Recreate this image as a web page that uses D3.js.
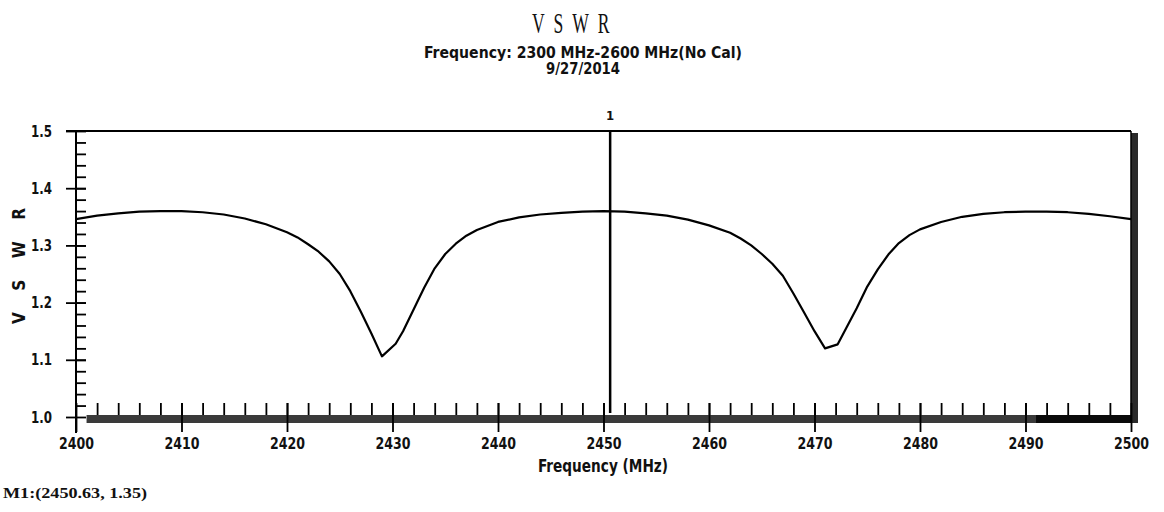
<!DOCTYPE html>
<html>
<head>
<meta charset="utf-8">
<script src="https://cdn.jsdelivr.net/npm/d3@7"></script>
<style>
  body { margin: 0; background: #fff; }
  text { font-family: "Liberation Sans Narrow", "DejaVu Sans Condensed", sans-serif; font-weight: bold; fill: #111; }
</style>
</head>
<body>
<div id="chart"></div>
<script>
// measured trace (MHz, VSWR)
var freq = [2400, 2402, 2404, 2406, 2408, 2410, 2412, 2414, 2416, 2418, 2420, 2421, 2422, 2423, 2424,
            2425, 2426, 2427, 2428, 2429, 2430.3, 2431, 2432, 2433, 2434, 2435, 2436, 2437, 2438,
            2440, 2442, 2444, 2446, 2448, 2450, 2452, 2454, 2456, 2458, 2460, 2462, 2463, 2464,
            2465, 2466, 2467, 2468, 2469, 2470, 2471, 2472.2, 2473, 2474, 2475, 2476, 2477, 2478,
            2479, 2480, 2482, 2484, 2486, 2488, 2490, 2492, 2494, 2496, 2498, 2500];
var vswr = [1.346, 1.352, 1.356, 1.359, 1.360, 1.360, 1.358, 1.354, 1.347, 1.337, 1.323, 1.314, 1.302, 1.289, 1.272,
            1.250, 1.220, 1.184, 1.146, 1.106, 1.128, 1.150, 1.188, 1.226, 1.260, 1.285, 1.303, 1.317, 1.327,
            1.341, 1.349, 1.354, 1.357, 1.359, 1.360, 1.359, 1.356, 1.352, 1.345, 1.335, 1.322, 1.312, 1.300,
            1.285, 1.268, 1.247, 1.216, 1.183, 1.150, 1.120, 1.127, 1.155, 1.190, 1.228, 1.258, 1.284, 1.304,
            1.318, 1.328, 1.341, 1.350, 1.355, 1.358, 1.359, 1.359, 1.358, 1.355, 1.351, 1.346];

var xTicks = [2400, 2410, 2420, 2430, 2440, 2450, 2460, 2470, 2480, 2490, 2500];
var xMinor = d3.range(2402, 2500, 2);
var yTicks = [1.0, 1.1, 1.2, 1.3, 1.4, 1.5];
var yMinor = d3.range(1.02, 1.5, 0.02);

var markerFreq = 2450.63;
var markerName = "1";
var markerText = "M1:(2450.63, 1.35)";

var title = "V S W R";
var subtitle = "Frequency: 2300 MHz-2600 MHz(No Cal)";
var dateText = "9/27/2014";
var xTitle = "Frequency (MHz)";
var yTitle = "V S W R";

var width = 1164, height = 512;

var svg = d3.select("#chart")
  .append("svg")
    .attr("width", width)
    .attr("height", height);

var x = d3.scaleLinear().domain([2400, 2500]).range([76, 1131]);
var y = d3.scaleLinear().domain([1.0, 1.5]).range([417, 131]);
var bandTop = 415;

// titles
svg.append("text")
  .attr("x", 572).attr("y", 33)
  .attr("text-anchor", "middle")
  .style("font-family", "'Liberation Serif', serif")
  .style("font-weight", "normal")
  .style("font-size", "29px")
  .style("letter-spacing", "4px")
  .attr("textLength", 80).attr("lengthAdjust", "spacingAndGlyphs")
  .text(title);
svg.append("text")
  .attr("x", 583).attr("y", 58)
  .attr("text-anchor", "middle")
  .style("font-size", "15px")
  .attr("textLength", 318).attr("lengthAdjust", "spacingAndGlyphs")
  .text(subtitle);
svg.append("text")
  .attr("x", 583).attr("y", 74)
  .attr("text-anchor", "middle")
  .style("font-size", "15px")
  .attr("textLength", 74).attr("lengthAdjust", "spacingAndGlyphs")
  .text(dateText);

// bottom band + right band
svg.append("rect")
  .attr("x", x(2401)).attr("y", bandTop)
  .attr("width", x(2500) - x(2401)).attr("height", 8)
  .attr("fill", "#3a3a3a");
svg.append("rect")
  .attr("x", x(2491)).attr("y", bandTop)
  .attr("width", x(2500) - x(2491)).attr("height", 8)
  .attr("fill", "#0a0a0a");
svg.append("rect")
  .attr("x", x(2500)).attr("y", y(1.5) + 2)
  .attr("width", 7).attr("height", bandTop + 6 - y(1.5))
  .attr("fill", "#2a2a2a");

// frame
svg.append("line")
  .attr("x1", 66).attr("x2", x(2500))
  .attr("y1", y(1.5)).attr("y2", y(1.5))
  .attr("stroke", "#000").attr("stroke-width", 1.8);
svg.append("line")
  .attr("x1", x(2500)).attr("x2", x(2500))
  .attr("y1", y(1.5)).attr("y2", bandTop + 8)
  .attr("stroke", "#000").attr("stroke-width", 1.5);

// Y axis: minor ticks inside, major ticks both sides
svg.append("g")
  .attr("class", "axis")
  .attr("transform", "translate(" + x(2400) + ",0)")
  .call(d3.axisLeft(y).tickValues(yMinor).tickSize(-10).tickFormat(""));
var yAxis = svg.append("g")
  .attr("class", "axis")
  .attr("transform", "translate(" + (x(2400) + 10) + ",0)")
  .call(d3.axisLeft(y).tickValues(yTicks).tickSize(20).tickPadding(14).tickFormat(d3.format(".1f")));

// X axis: minor ticks above band, major ticks crossing
svg.append("g")
  .attr("class", "axis")
  .attr("transform", "translate(0," + bandTop + ")")
  .call(d3.axisBottom(x).tickValues(xMinor).tickSize(-12).tickFormat(""));
var xAxis = svg.append("g")
  .attr("class", "axis")
  .attr("transform", "translate(0," + (bandTop - 12) + ")")
  .call(d3.axisBottom(x).tickValues(xTicks).tickSize(29).tickPadding(6).tickFormat(d3.format("d")));

svg.selectAll(".axis .domain").remove();
svg.selectAll(".axis line").attr("stroke", "#000").attr("stroke-width", 1.8);
svg.selectAll(".axis text")
  .style("font-family", "'Liberation Sans Narrow', 'DejaVu Sans Condensed', sans-serif")
  .style("font-weight", "bold")
  .style("font-size", "16px")
  .attr("lengthAdjust", "spacingAndGlyphs")
  .attr("fill", "#111");
xAxis.selectAll("text").attr("textLength", 35);
yAxis.selectAll("text").attr("textLength", 21);

// y axis line
svg.append("line")
  .attr("x1", x(2400)).attr("x2", x(2400))
  .attr("y1", y(1.5)).attr("y2", 433)
  .attr("stroke", "#000").attr("stroke-width", 2);

// axis titles
svg.append("text")
  .attr("x", 603).attr("y", 472)
  .attr("text-anchor", "middle")
  .style("font-size", "17px")
  .attr("textLength", 130).attr("lengthAdjust", "spacingAndGlyphs")
  .text(xTitle);
svg.append("text")
  .attr("transform", "translate(25,266) rotate(-90)")
  .attr("text-anchor", "middle")
  .style("font-size", "17px")
  .attr("textLength", 116).attr("lengthAdjust", "spacing")
  .text(yTitle);

// trace
var pts = freq.map(function(f, i) { return { f: f, v: vswr[i] }; });
svg.append("path")
  .datum(pts)
  .attr("fill", "none")
  .attr("stroke", "#000")
  .attr("stroke-width", 2.2)
  .attr("stroke-linejoin", "round")
  .attr("d", d3.line()
    .x(function(d) { return x(d.f); })
    .y(function(d) { return y(d.v); }));

// marker
svg.append("line")
  .attr("x1", x(markerFreq)).attr("x2", x(markerFreq))
  .attr("y1", y(1.5)).attr("y2", bandTop - 2)
  .attr("stroke", "#000").attr("stroke-width", 2.5);
svg.append("text")
  .attr("x", x(markerFreq)).attr("y", 120)
  .attr("text-anchor", "middle")
  .style("font-size", "13px")
  .text(markerName);
svg.append("text")
  .attr("x", 3).attr("y", 498)
  .style("font-family", "'Liberation Serif', serif")
  .style("font-size", "14px")
  .attr("textLength", 144).attr("lengthAdjust", "spacingAndGlyphs")
  .text(markerText);
</script>
</body>
</html>
